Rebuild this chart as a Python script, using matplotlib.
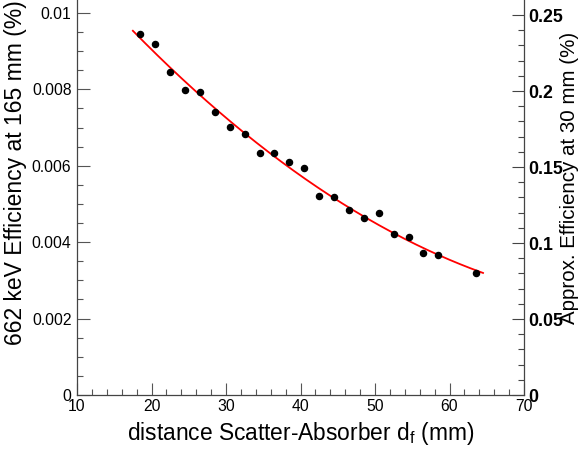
import numpy as np
import matplotlib
matplotlib.use("Agg")
import matplotlib.pyplot as plt

plt.rcParams["font.family"] = ["Liberation Sans", "DejaVu Sans"]

# measured points: distance scatter-absorber (mm) vs efficiency at 165 mm (%)
distance = [18.5, 20.5, 22.5, 24.5, 26.5, 28.5, 30.5, 32.5, 34.5, 36.5, 38.5,
            40.5, 42.5, 44.5, 46.5, 48.5, 50.5, 52.5, 54.5, 56.5, 58.5, 63.5]
efficiency = [0.00944, 0.00919, 0.00846, 0.00799, 0.00792, 0.00742, 0.00702,
              0.00683, 0.00634, 0.00634, 0.00609, 0.00594, 0.00520, 0.00518,
              0.00484, 0.00463, 0.00476, 0.00422, 0.00413, 0.00371, 0.00367,
              0.00319]
fit_range = [17.5, 64.5]

x_ticks = [10, 20, 30, 40, 50, 60, 70]
y_ticks = [0, 0.002, 0.004, 0.006, 0.008, 0.01]
y_ticklabels = ["0", "0.002", "0.004", "0.006", "0.008", "0.01"]
y2_ticks = [0, 0.05, 0.1, 0.15, 0.2, 0.25]
y2_ticklabels = ["0", "0.05", "0.1", "0.15", "0.2", "0.25"]

# second order polynomial fit, like the red curve
coef = np.polyfit(distance, efficiency, 2)
xf = np.linspace(fit_range[0], fit_range[1], 200)
yf = np.polyval(coef, xf)

fig = plt.figure(figsize=(5.81, 4.5), dpi=100)
ax = fig.add_axes([77 / 581, 55 / 450, 447 / 581, 395 / 450])

ax.plot(xf, yf, color="red", lw=1.3, zorder=2)
ax.plot(distance, efficiency, "o", color="black", ms=4.4, zorder=3)

ax.set_xlim(10, 70)
ax.set_ylim(0, 0.01034)
ax.set_xticks(x_ticks)
ax.set_xticks(np.arange(10, 70.1, 2), minor=True)
ax.set_yticks(y_ticks)
ax.set_yticklabels(y_ticklabels)
ax.set_yticks(np.arange(0, 0.0103, 0.0005), minor=True)
ax.tick_params(which="both", direction="in", color="#555555", labelsize=11.3,
               right=False, top=False)
ax.tick_params(which="major", length=9, width=0.8)
ax.tick_params(which="minor", length=4.5, width=0.8)
ax.tick_params(axis="x", pad=3)
ax.tick_params(axis="y", pad=4)
for s in ["top", "right"]:
    ax.spines[s].set_visible(False)
for s in ["left", "bottom"]:
    ax.spines[s].set_color("#444444")
    ax.spines[s].set_linewidth(0.9)

ax.set_xlabel("distance Scatter-Absorber d$_{\\mathregular{f}}$ (mm)", fontsize=16.4)
ax.xaxis.set_label_coords(0.5, -0.063)
ax.set_ylabel("662 keV Efficiency at 165 mm (%)", fontsize=16.5, loc="top")
ax.yaxis.set_label_coords(-0.112, 1.0)

ax2 = ax.twinx()
ax2.set_ylim(0, 0.2599)
ax2.set_yticks(y2_ticks)
ax2.set_yticklabels(y2_ticklabels, fontweight="bold")
ax2.set_yticks(np.arange(0, 0.26, 0.01), minor=True)
ax2.tick_params(which="both", direction="in", color="#444444", labelsize=12.8, pad=3)
ax2.tick_params(which="major", length=9, width=0.8)
ax2.tick_params(which="minor", length=4.5, width=0.8)
for s in ["top", "left", "bottom"]:
    ax2.spines[s].set_visible(False)
ax2.spines["right"].set_color("#444444")
ax2.spines["right"].set_linewidth(0.9)
ax2.set_ylabel("Approx. Efficiency at 30 mm (%)", fontsize=14.8, rotation=90)
ax2.yaxis.set_label_coords(1.08, 0.55)

fig.savefig("out.png", dpi=100)
